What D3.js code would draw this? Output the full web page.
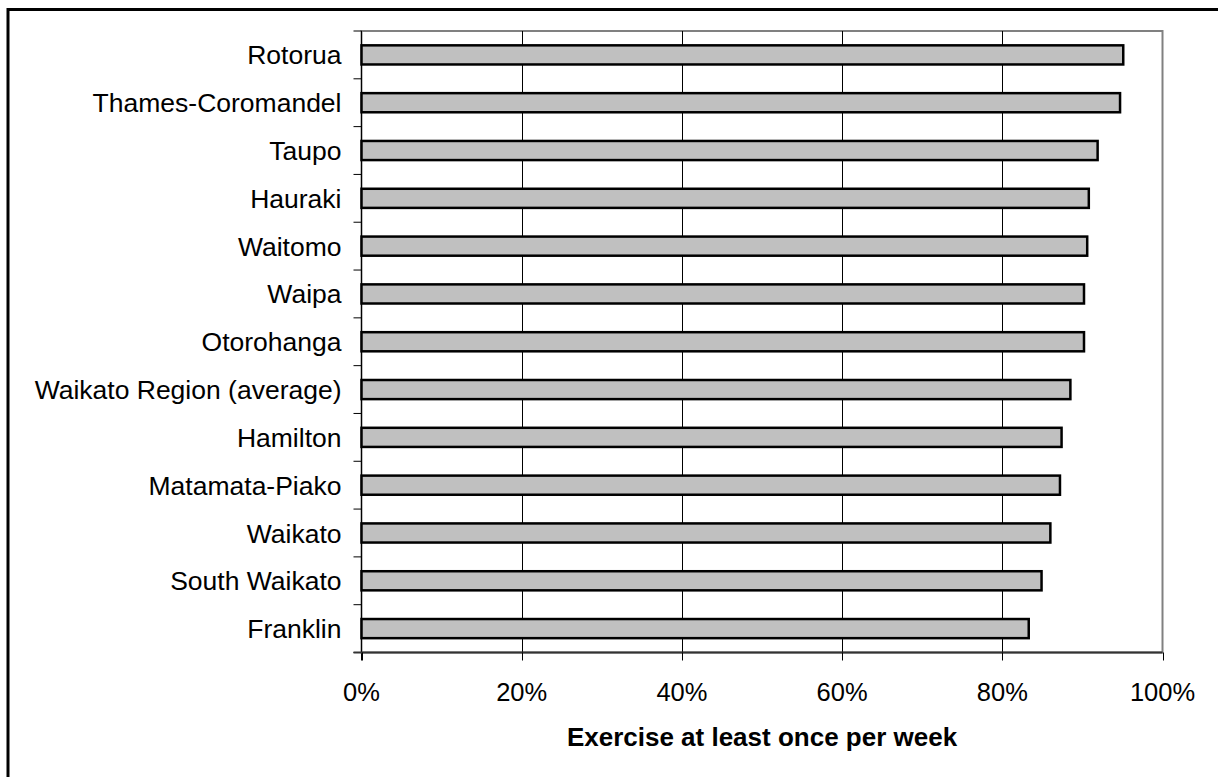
<!DOCTYPE html>
<html>
<head>
<meta charset="utf-8">
<script src="https://cdn.jsdelivr.net/npm/d3@7"></script>
<style>
  html, body { margin: 0; padding: 0; background: #fff; overflow: hidden; }
  svg { display: block; overflow: hidden; }
  text { font-family: "Liberation Sans", Arial, sans-serif; fill: #000; }
</style>
</head>
<body>
<svg id="chart" width="1218" height="777"></svg>
<script>
const categories = ["Rotorua", "Thames-Coromandel", "Taupo", "Hauraki", "Waitomo", "Waipa",
  "Otorohanga", "Waikato Region (average)", "Hamilton", "Matamata-Piako", "Waikato",
  "South Waikato", "Franklin"];
const values = [0.951, 0.947, 0.919, 0.908, 0.906, 0.902, 0.902, 0.885, 0.874, 0.872, 0.860, 0.849, 0.833];
const xTicks = [0, 0.2, 0.4, 0.6, 0.8, 1.0];
const xTitle = "Exercise at least once per week";

const svg = d3.select("#chart");
const L = 361.5, R = 1162.5, T = 31, B = 652.5;

// outer border: only top and left edges are visible in the frame
svg.append("path").attr("d", `M8,777 L8,9.5 L1218,9.5`)
  .attr("fill", "none").attr("stroke", "#000").attr("stroke-width", 3);

const x = d3.scaleLinear().domain([0, 1]).range([L, R]);
const y = d3.scaleBand().domain(categories).range([T, B]).paddingInner(0.6).paddingOuter(0.3);
const step = y.step();

// plot frame (gray)
svg.append("rect").attr("x", L).attr("y", T).attr("width", R - L).attr("height", B - T)
  .attr("fill", "none").attr("stroke", "#808080").attr("stroke-width", 2);

// gridlines
svg.append("g").selectAll("line").data(xTicks.filter(d => d > 0 && d < 1)).join("line")
  .attr("x1", d => Math.round(x(d)) + 0.5).attr("x2", d => Math.round(x(d)) + 0.5)
  .attr("y1", T).attr("y2", B).attr("stroke", "#000").attr("stroke-width", 1);

// bars
svg.append("g").selectAll("rect").data(categories).join("rect")
  .attr("x", x(0)).attr("y", d => y(d))
  .attr("width", (d, i) => x(values[i]) - x(0)).attr("height", y.bandwidth())
  .attr("fill", "#c0c0c0").attr("stroke", "#000").attr("stroke-width", 2.5);

// left axis line + category ticks
svg.append("line").attr("x1", L).attr("x2", L).attr("y1", T).attr("y2", B + 8)
  .attr("stroke", "#000").attr("stroke-width", 1);
const catTicks = d3.range(categories.length + 1).map(i => T + i * step);
svg.append("g").selectAll("line").data(catTicks).join("line")
  .attr("x1", L - 8).attr("x2", L).attr("y1", d => d).attr("y2", d => d)
  .attr("stroke", "#000").attr("stroke-width", 1);

// bottom axis
svg.append("line").attr("x1", L - 8).attr("x2", R).attr("y1", B).attr("y2", B)
  .attr("stroke", "#333").attr("stroke-width", 2);
svg.append("g").selectAll("line").data(xTicks).join("line")
  .attr("x1", d => Math.round(x(d)) + 0.5).attr("x2", d => Math.round(x(d)) + 0.5)
  .attr("y1", B).attr("y2", B + 8).attr("stroke", "#000").attr("stroke-width", 1);

// tick labels
const fmt = d3.format(".0%");
svg.append("g").selectAll("text").data(xTicks).join("text")
  .attr("x", d => x(d)).attr("y", 701).attr("text-anchor", "middle")
  .attr("font-size", 25.5).text(d => fmt(d));

// category labels
svg.append("g").selectAll("text").data(categories).join("text")
  .attr("x", L - 20).attr("y", d => y(d) + y.bandwidth() / 2).attr("dy", "0.36em")
  .attr("text-anchor", "end").attr("font-size", 26.5).text(d => d);

// axis title
svg.append("text").attr("x", (L + R) / 2).attr("y", 746).attr("text-anchor", "middle")
  .attr("font-size", 26).attr("font-weight", "bold").text(xTitle);
</script>
</body>
</html>
